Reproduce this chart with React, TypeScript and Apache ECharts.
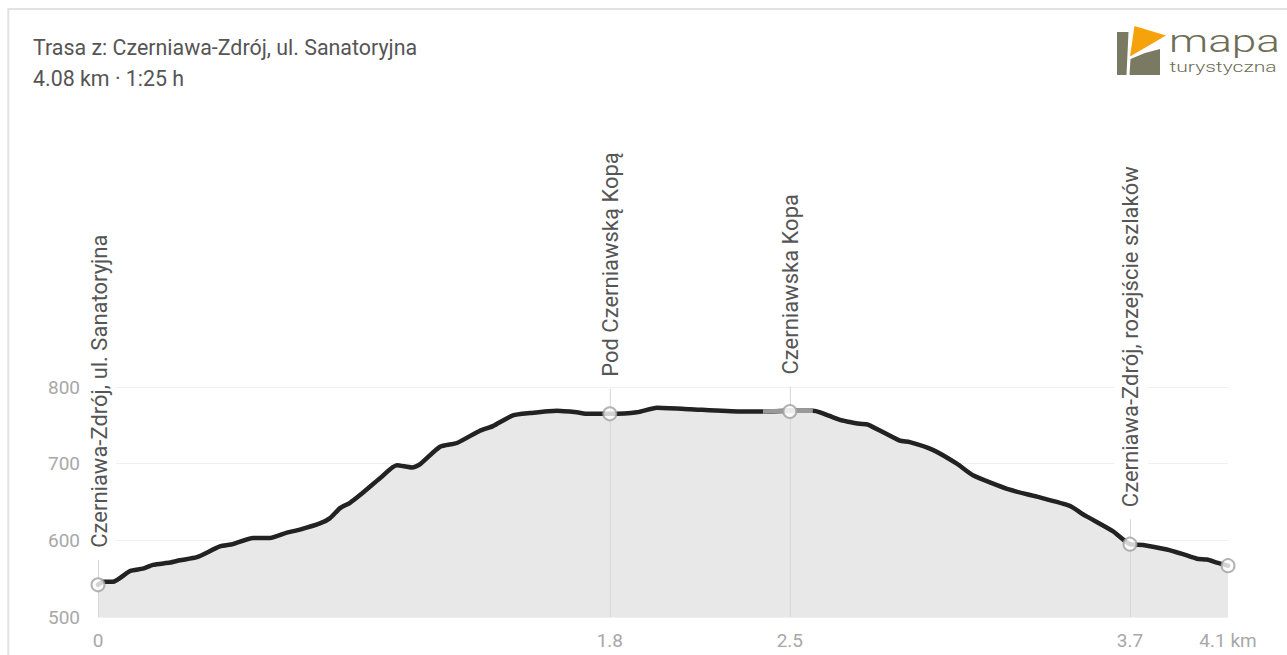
import React, { useEffect, useRef } from 'react';
import * as echarts from 'echarts';

// Route profile: distance (km) and elevation (m a.s.l.)
const distanceKm = [
  0, 0.02, 0.054, 0.116, 0.162, 0.199, 0.26, 0.296, 0.357, 0.44, 0.487, 0.56, 0.621, 0.682, 0.729,
  0.801, 0.838, 0.874, 0.91, 0.946, 1.018, 1.079, 1.134, 1.162, 1.235, 1.296, 1.379, 1.426, 1.498,
  1.56, 1.657, 1.729, 1.769, 1.848, 1.946, 2.018, 2.137, 2.318, 2.401, 2.498, 2.581, 2.607, 2.679,
  2.704, 2.751, 2.78, 2.895, 2.931, 3.014, 3.101, 3.159, 3.292, 3.39, 3.509, 3.556, 3.581, 3.664,
  3.726, 3.773, 3.859, 3.917, 3.968, 4.004, 4.04, 4.08,
];
const elevationM = [
  542, 546, 546, 560, 563, 568, 571, 574, 578, 592, 595, 603, 603, 610, 614,
  622, 629, 642, 649, 659, 681, 698, 695, 699, 722, 727, 743, 749, 763,
  766, 769, 767, 765, 765, 767, 773, 771, 768, 768, 769, 769, 767, 757,
  755, 752, 751, 730, 728, 718, 700, 685, 666, 657, 645, 634, 629, 612,
  595, 594, 588, 582, 576, 575, 571, 567,
];

// Waypoints
const waypointKm = [0, 1.848, 2.498, 3.726, 4.08];
const waypointElev = [542, 765, 768, 595, 567];
const waypointNames = [
  'Czerniawa-Zdrój, ul. Sanatoryjna',
  'Pod Czerniawską Kopą',
  'Czerniawska Kopa',
  'Czerniawa-Zdrój, rozejście szlaków',
  '',
];
const xTickLabels = ['0', '1.8', '2.5', '3.7', '4.1 km'];

// Segment drawn in gray (different surface)
const graySegmentKm = [2.401, 2.581];

const yTicks = { min: 500, max: 800, interval: 100 };

const titleText = 'Trasa z: Czerniawa-Zdrój, ul. Sanatoryjna';
const subtitleText = '4.08 km · 1:25 h';

const FONT = 'Roboto, "Noto Sans", sans-serif';

export default function App() {
  const ref = useRef<HTMLDivElement>(null);

  useEffect(() => {
    if (!ref.current) return;
    const chart = echarts.init(ref.current, undefined, { renderer: 'svg' });

    const profile = distanceKm.map((d, i) => [d, elevationM[i]]);
    const grayProfile = profile.filter((p) => p[0] >= graySegmentKm[0] && p[0] <= graySegmentKm[1]);
    const markers = waypointKm.map((d, i) => [d, waypointElev[i]]);
    const labeled = waypointKm
      .map((d, i) => [d, waypointElev[i], i])
      .filter((p) => waypointNames[p[2] as number] !== '');

    const option: any = {
      animation: false,
      backgroundColor: '#fff',
      grid: {
        left: 98,
        right: 59,
        top: 387,
        bottom: 38,
        containLabel: false,
        outerBoundsMode: 'none',
      },
      xAxis: {
        type: 'value',
        min: 0,
        max: 4.08,
        axisLine: { show: false },
        axisTick: { show: false },
        splitLine: { show: false },
        axisLabel: {
          customValues: waypointKm,
          color: '#a8a8a8',
          fontSize: 19,
          fontFamily: FONT,
          margin: 14,
          formatter: (v: number) => {
            const i = waypointKm.findIndex((w) => Math.abs(w - v) < 1e-6);
            return i >= 0 ? xTickLabels[i] : '';
          },
        },
      },
      yAxis: {
        type: 'value',
        min: yTicks.min,
        max: yTicks.max,
        interval: yTicks.interval,
        axisLine: { show: false },
        axisTick: { show: false },
        splitLine: { lineStyle: { color: '#efefef', width: 1 } },
        axisLabel: { color: '#a8a8a8', fontSize: 19, fontFamily: FONT, margin: 18 },
      },
      series: [
        {
          type: 'line',
          data: profile,
          z: 1,
          symbol: 'none',
          smooth: 0.2,
          lineStyle: { width: 0, opacity: 0 },
          areaStyle: { color: '#e8e8e8', opacity: 1 },
          silent: true,
        },
        {
          type: 'custom',
          z: 2,
          clip: false,
          silent: true,
          data: labeled,
          renderItem: (params: any, api: any) => {
            const km = api.value(0);
            const el = api.value(1);
            const idx = api.value(2);
            const p = api.coord([km, el]);
            const base = api.coord([km, yTicks.min]);
            return {
              type: 'group',
              children: [
                {
                  type: 'line',
                  shape: { x1: p[0] + 0.5, y1: base[1], x2: p[0] + 0.5, y2: p[1] - 25 },
                  style: { stroke: '#d6d6d6', lineWidth: 1 },
                },
                {
                  type: 'text',
                  x: p[0] + 1,
                  y: p[1] - 37,
                  rotation: Math.PI / 2,
                  style: {
                    text: waypointNames[idx],
                    fill: '#555',
                    fontSize: 22,
                    fontFamily: FONT,
                    align: 'left',
                    verticalAlign: 'middle',
                    backgroundColor: '#fff',
                    padding: [6, 0, 6, 0],
                  },
                },
              ],
            };
          },
        },
        {
          type: 'line',
          data: profile,
          z: 3,
          symbol: 'none',
          smooth: 0.2,
          lineStyle: { width: 4.5, color: '#222', cap: 'round', join: 'round' },
          silent: true,
        },
        {
          type: 'line',
          data: grayProfile,
          z: 4,
          symbol: 'none',
          smooth: 0.2,
          lineStyle: { width: 4.5, color: '#999' },
          silent: true,
        },
        {
          type: 'scatter',
          data: markers,
          z: 5,
          symbol: 'circle',
          symbolSize: 13,
          itemStyle: { color: '#fff', borderColor: '#a0a0a0', borderWidth: 2 },
          silent: true,
        },
      ],
      graphic: [
        {
          type: 'rect',
          shape: { x: 8.3, y: 9, width: 1400, height: 800 },
          style: { fill: 'none', stroke: '#e2e2e2', lineWidth: 2 },
          silent: true,
        },
        {
          type: 'text',
          x: 33,
          y: 47.5,
          style: { text: titleText, fill: '#555', fontSize: 21.4, fontFamily: FONT, verticalAlign: 'middle', align: 'left' },
        },
        {
          type: 'text',
          x: 33,
          y: 78,
          style: { text: subtitleText, fill: '#555', fontSize: 21.4, fontFamily: FONT, verticalAlign: 'middle', align: 'left' },
        },
        // logo
        {
          type: 'polygon',
          shape: { points: [[1117, 32], [1128.5, 32], [1126.5, 75], [1117, 75]] },
          style: { fill: '#7a7961' },
        },
        {
          type: 'polygon',
          shape: { points: [[1130.5, 59], [1145, 53], [1160, 49], [1160, 75], [1129.5, 75]] },
          style: { fill: '#7a7961' },
        },
        {
          type: 'polygon',
          shape: { points: [[1134.5, 26], [1166, 35.5], [1130, 56.5]] },
          style: { fill: '#f6a20b' },
        },
        {
          type: 'text',
          x: 1169,
          y: 40.7,
          scaleX: 1.38,
          style: { text: 'mapa', fill: '#6e6d56', fontSize: 32, fontWeight: 300, fontFamily: FONT, verticalAlign: 'middle', align: 'left' },
        },
        {
          type: 'text',
          x: 1169.5,
          y: 67.4,
          scaleX: 1.36,
          style: { text: 'turystyczna', fill: '#6e6d56', fontSize: 15.5, fontWeight: 300, fontFamily: FONT, verticalAlign: 'middle', align: 'left' },
        },
      ],
    };

    chart.setOption(option);
    return () => chart.dispose();
  }, []);

  return (
    <div
      ref={ref}
      style={{ position: 'fixed', left: 0, top: 0, width: 1287, height: 655 }}
    />
  );
}
